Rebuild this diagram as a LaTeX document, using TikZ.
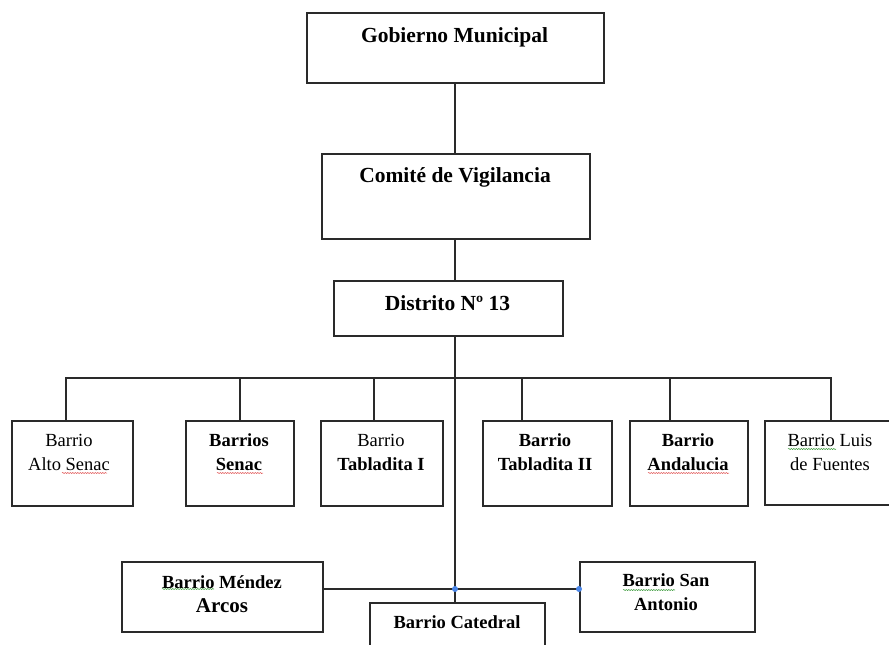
\documentclass[tikz,border=0pt]{standalone}
\usepackage{fontspec}
\setmainfont{Liberation Serif}
\usetikzlibrary{decorations.pathmorphing}
\definecolor{ln}{HTML}{2A2A2A}
\definecolor{dotblue}{HTML}{4A86E8}
\definecolor{sqred}{HTML}{E05050}
\definecolor{sqgreen}{HTML}{3A9A3A}
\tikzset{
  box/.style={draw=ln, line width=2pt, rectangle, inner sep=0pt, anchor=north west},
  conn/.style={draw=ln, line width=2pt},
  big/.style={font=\bfseries\fontsize{21.5}{26}\selectfont, align=center, inner sep=0pt},
  small/.style={font=\fontsize{18.5}{24}\selectfont, align=center, inner sep=0pt},
  smallb/.style={font=\bfseries\fontsize{18.5}{24}\selectfont, align=center, inner sep=0pt},
  redsq/.style={draw=sqred, line width=0.5pt, decorate, decoration={snake, amplitude=0.6pt, segment length=2.5pt}},
  greensq/.style={draw=sqgreen, line width=0.5pt, decorate, decoration={snake, amplitude=0.6pt, segment length=2.5pt}},
  jdot/.style={circle, fill=dotblue, inner sep=0pt, minimum size=6pt}
}
\begin{document}
\begin{tikzpicture}[x=1pt,y=-1pt]
\useasboundingbox (0,0) rectangle (889,645);
\clip (0,0) rectangle (889,645);

% boxes
\node[box, minimum width=297pt, minimum height=70pt] (gm) at (306,12) {};
\node[box, minimum width=268pt, minimum height=85pt] (cv) at (321,153) {};
\node[box, minimum width=229pt, minimum height=55pt] (d13) at (333,280) {};
\node[box, minimum width=121pt, minimum height=85pt] (b1) at (11,420) {};
\node[box, minimum width=108pt, minimum height=85pt] (b2) at (185,420) {};
\node[box, minimum width=122pt, minimum height=85pt] (b3) at (320,420) {};
\node[box, minimum width=129pt, minimum height=85pt] (b4) at (482,420) {};
\node[box, minimum width=118pt, minimum height=85pt] (b5) at (629,420) {};
\node[box, minimum width=140pt, minimum height=84pt] (b6) at (764,420) {};
\node[box, minimum width=201pt, minimum height=70pt] (bm) at (121,561) {};
\node[box, minimum width=175pt, minimum height=60pt] (bc) at (369,602) {};
\node[box, minimum width=175pt, minimum height=70pt] (bs) at (579,561) {};

% texts
\node[big] (gmt) at (454.5,37) {Gobierno Municipal};
\node[big] (cvt) at (455,177) {Comité de Vigilancia};
\node[big] (d13t) at (447.5,303) {Distrito Nº 13};
\node[small] (b1t) at (69,452) {Barrio\\Alto Senac};
\node[smallb] (b2t) at (239,452) {Barrios\\Senac};
\node[small] (b3t) at (381,452) {Barrio\\\textbf{Tabladita I}};
\node[smallb] (b4t) at (545,452) {Barrio\\Tabladita II};
\node[smallb] (b5t) at (688,452) {Barrio\\Andalucia};
\node[small] (b6t) at (830,452) {Barrio Luis\\de Fuentes};
\node[smallb] (bmt) at (222,594) {Barrio Méndez\\{\fontsize{21}{24}\selectfont Arcos}};
\node[smallb] (bct) at (457,622) {Barrio Catedral};
\node[smallb] (bst) at (666,592) {Barrio San\\Antonio};

% spell-check underlines
\draw[redsq] (62,473) -- (107,473);
\draw[redsq] (217,473) -- (263,473);
\draw[redsq] (648,473) -- (729,473);
\draw[greensq] (788,449) -- (836,449);
\draw[greensq] (162,589) -- (214,589);
\draw[greensq] (623,590) -- (675,590);

% trunk
\coordinate (tr) at (455,0);
\draw[conn] (tr |- gm.south) -- (tr |- cv.north);
\draw[conn] (tr |- cv.south) -- (tr |- d13.north);
\draw[conn] (tr |- d13.south) -- (tr |- bc.north);

% bus
\coordinate (bus1) at (66,378);
\coordinate (bus2) at (240,378);
\coordinate (bus3) at (374,378);
\coordinate (bus4) at (522,378);
\coordinate (bus5) at (670,378);
\coordinate (bus6) at (831,378);
\draw[conn] (bus1 |- b1.north) -- (bus1) -- (bus6) -- (bus6 |- b6.north);
\draw[conn] (bus2) -- (bus2 |- b2.north);
\draw[conn] (bus3) -- (bus3 |- b3.north);
\draw[conn] (bus4) -- (bus4 |- b4.north);
\draw[conn] (bus5) -- (bus5 |- b5.north);

% lower connector
\coordinate (j) at (455,589);
\draw[conn] (bm.east |- j) -- (bs.west |- j);
\node[jdot] (jd1) at (tr |- j) {};
\node[jdot] (jd2) at (bs.west |- j) {};
\end{tikzpicture}
\end{document}
